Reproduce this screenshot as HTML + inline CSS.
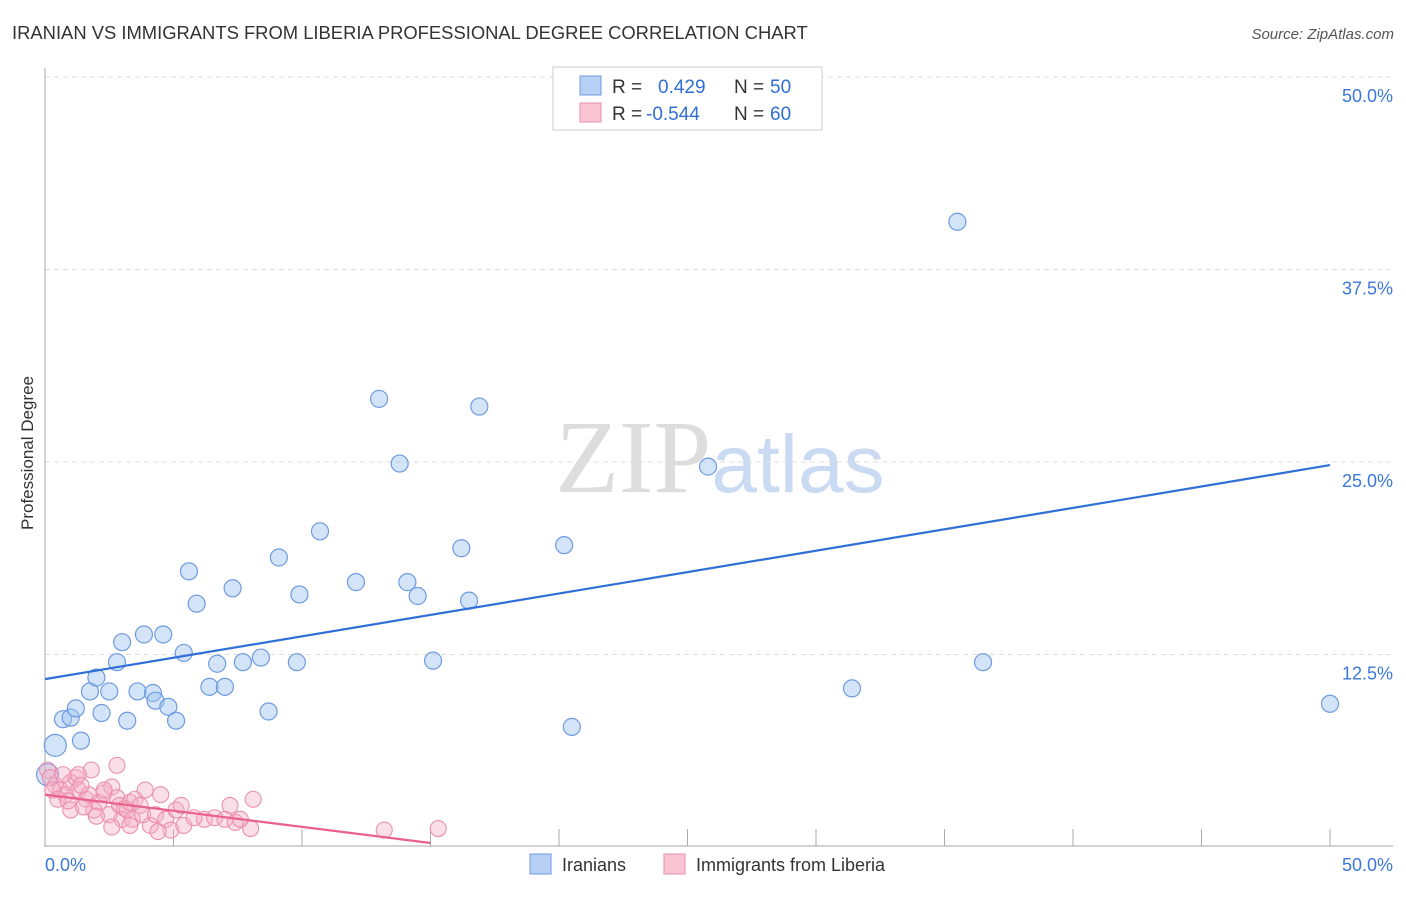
<!DOCTYPE html>
<html><head><meta charset="utf-8"><style>
body{margin:0;background:#fff;font-family:"Liberation Sans",sans-serif;}
</style></head><body>
<svg id="chart" width="1406" height="892" xmlns="http://www.w3.org/2000/svg" font-family="Liberation Sans, sans-serif">
<text x="12" y="39" font-size="18.4" fill="#333">IRANIAN VS IMMIGRANTS FROM LIBERIA PROFESSIONAL DEGREE CORRELATION CHART</text>
<text x="1394" y="39" font-size="15" fill="#555" text-anchor="end" font-style="italic">Source: ZipAtlas.com</text>
<text transform="translate(33,453) rotate(-90)" font-size="17" fill="#333" text-anchor="middle">Professional Degree</text>
<g font-size="104" text-anchor="middle">
<text x="720" y="492"><tspan fill="#ddd" font-family="Liberation Serif, serif">ZIP</tspan><tspan fill="#c9daf2" font-size="82">atlas</tspan></text>
</g>
<g id="grid"></g><g id="axes"></g><g id="marks"></g>
<g>
<rect x="553" y="67" width="269" height="63" fill="#fff" stroke="#ccc"/>
<rect x="580" y="76" width="21" height="19" fill="#b7d0f5" stroke="#6e9be0"/>
<rect x="580" y="103" width="21" height="19" fill="#f9c4d4" stroke="#ea8fae"/>
<text x="612" y="93" font-size="19" fill="#333">R =  <tspan fill="#2f6fd6" x="658">0.429</tspan><tspan fill="#333" x="734">N =</tspan><tspan fill="#2f6fd6" x="770">50</tspan></text>
<text x="612" y="120" font-size="19" fill="#333">R = <tspan fill="#2f6fd6" x="646">-0.544</tspan><tspan fill="#333" x="734">N =</tspan><tspan fill="#2f6fd6" x="770">60</tspan></text>
</g>
<g font-size="18" fill="#333">
<rect x="530" y="854" width="21" height="20" fill="#b7d0f5" stroke="#6e9be0"/>
<text x="562" y="871">Iranians</text>
<rect x="664" y="854" width="21" height="20" fill="#f9c4d4" stroke="#ea8fae"/>
<text x="696" y="871">Immigrants from Liberia</text>
</g>
</svg>
<script>
const yTicks=[12.5,25,37.5,50];
const yTickLabels=["12.5%","25.0%","37.5%","50.0%"];
const xTickVals=[5,10,15,20,25,30,35,40,45,50];
const blueX=[0.4,0.1,0.7,1.0,1.2,1.4,1.75,2.0,2.2,2.5,2.8,3.0,3.2,3.6,3.85,4.2,4.3,4.6,4.8,5.1,5.4,5.6,5.9,6.4,6.7,7.0,7.3,7.7,8.4,8.7,9.1,9.8,9.9,10.7,12.1,13.0,13.8,14.1,14.5,15.1,16.2,16.5,16.9,20.2,20.5,25.8,31.4,35.5,36.5,50];
const blueY=[6.6,4.7,8.3,8.4,9.0,6.9,10.1,11.0,8.7,10.1,12.0,13.3,8.2,10.1,13.8,10.0,9.5,13.8,9.1,8.2,12.6,17.9,15.8,10.4,11.9,10.4,16.8,12.0,12.3,8.8,18.8,12.0,16.4,20.5,17.2,29.1,24.9,17.2,16.3,12.1,19.4,16.0,28.6,19.6,7.8,24.7,10.3,40.6,12.0,9.3];
const pinkX=[0.1,0.2,0.4,0.6,0.8,1.0,1.2,1.3,1.6,1.7,1.8,1.9,2.1,2.3,2.5,2.6,2.8,2.9,3.0,3.1,3.2,3.3,3.4,3.5,3.7,3.8,3.9,4.1,4.3,4.5,4.7,4.9,5.1,5.3,5.4,6.2,6.6,7.0,7.2,7.4,8.0,8.1,13.2,15.3,2.8,1.3,4.4,2.6,1.0,1.4,2.3,0.7,0.3,5.8,7.6,0.5,3.3,2.0,0.9,1.5];
const pinkY=[5.0,4.5,4.0,3.7,3.4,4.2,4.5,3.7,3.1,3.4,5.0,2.4,2.9,3.5,2.1,3.9,3.2,2.7,1.8,2.5,2.4,2.9,1.8,3.1,2.7,2.1,3.7,1.4,2.1,3.4,1.8,1.1,2.4,2.7,1.4,1.8,1.9,1.8,2.7,1.6,1.2,3.1,1.1,1.2,5.3,4.7,1.0,1.3,2.4,4.0,3.7,4.7,3.7,1.9,1.8,3.1,1.4,2.0,3.0,2.6];
const blueTrend=[0,10.9,50,24.8];
const pinkTrend=[0,3.4,15,0.26];
const X=v=>45+v*25.7, Y=v=>847-v*15.4;
const NS="http://www.w3.org/2000/svg";
function mk(tag,attrs,parent){const e=document.createElementNS(NS,tag);for(const k in attrs)e.setAttribute(k,attrs[k]);document.getElementById(parent).appendChild(e);return e;}
yTicks.forEach((t,i)=>{
 const g=mk('line',{x1:45,x2:1393,y1:Y(t),y2:Y(t),stroke:'#ddd','stroke-dasharray':'5,4'},'grid');
 
 
 const l=mk('text',{x:1393,y:Y(t)+25,'font-size':18,fill:'#3b78d8','text-anchor':'end'},'axes');
 l.textContent=yTickLabels[i];
 
 
});
const ya=mk('line',{x1:45,x2:45,y1:68,y2:847,stroke:'#aaa'},'axes');


const xa=mk('line',{x1:45,x2:1393,y1:846,y2:846,stroke:'#aaa'},'axes');


xTickVals.forEach(t=>{const k=mk('line',{x1:X(t),x2:X(t),y1:829,y2:846,stroke:'#aaa'},'axes');
 
 });
[["0.0%",45,'start'],["50.0%",1393,'end']].forEach(a=>{const t=mk('text',{x:a[1],y:871,'font-size':18,fill:'#3b78d8','text-anchor':a[2]},'axes');t.textContent=a[0];
 
 });
blueX.forEach((x,i)=>{const c=mk('circle',{cx:X(x),cy:Y(blueY[i]),r:(i<2?11:8.5),fill:'rgba(160,196,240,0.45)',stroke:'#6e9be0','stroke-width':1.2},'marks');
 
 });
pinkX.forEach((x,i)=>{const c=mk('circle',{cx:X(x),cy:Y(pinkY[i]),r:8,fill:'rgba(246,175,198,0.4)',stroke:'#ec8fae','stroke-width':1.1},'marks');
 
 });
const bl=mk('line',{x1:X(blueTrend[0]),y1:Y(blueTrend[1]),x2:X(blueTrend[2]),y2:Y(blueTrend[3]),stroke:'#2f6fd6','stroke-width':2.2},'marks');


const pl=mk('line',{x1:X(pinkTrend[0]),y1:Y(pinkTrend[1]),x2:X(pinkTrend[2]),y2:Y(pinkTrend[3]),stroke:'#e8608c','stroke-width':2.2},'marks');


</script>
</body></html>
